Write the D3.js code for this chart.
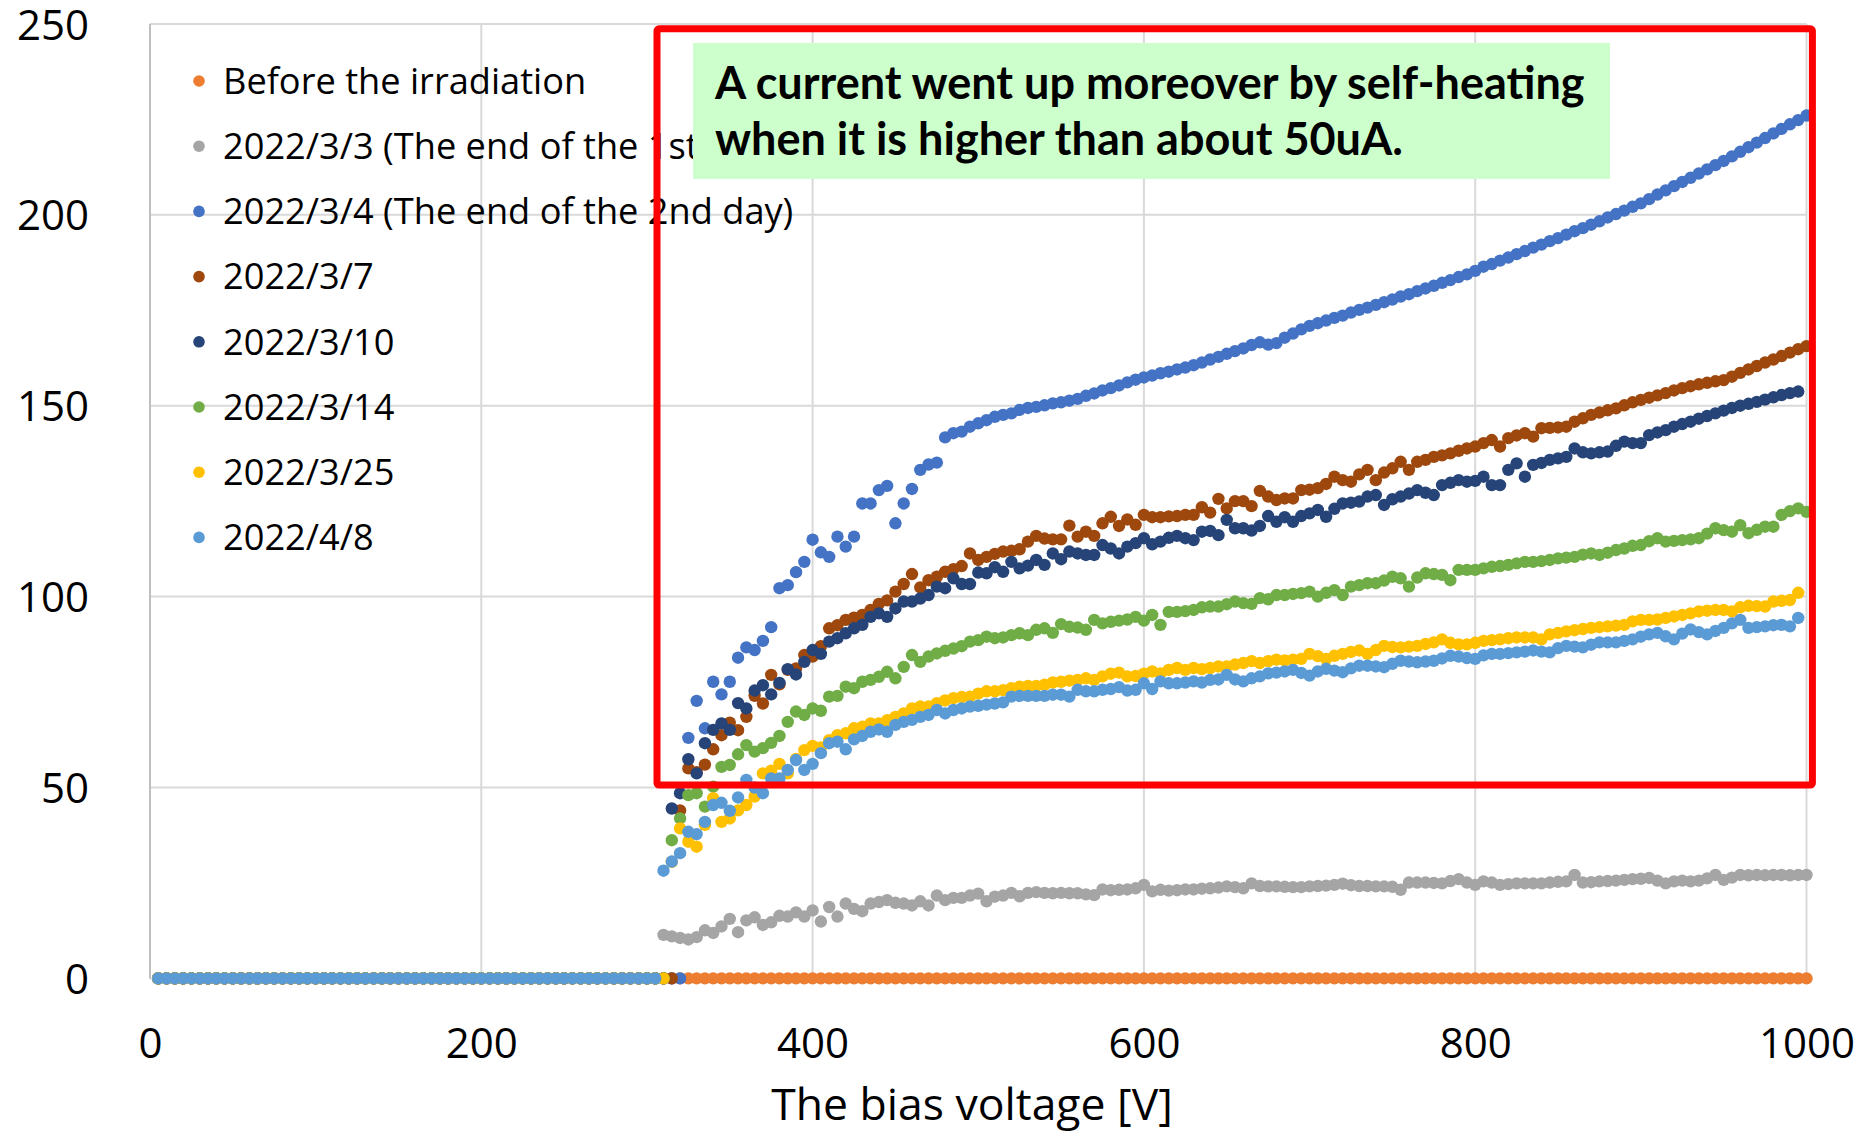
<!DOCTYPE html>
<html>
<head>
<meta charset="utf-8">
<script src="https://cdn.jsdelivr.net/npm/d3@7"></script>
<style>
  html, body { margin: 0; padding: 0; background: #ffffff; }
  svg { display: block; font-family: "Open Sans", sans-serif; }
</style>
</head>
<body>
<svg id="chart" width="1871" height="1132"></svg>
<script>
// Bias voltage sweep [V]
const voltage = [
  5, 10, 15, 20, 25, 30, 35, 40, 45, 50,
  55, 60, 65, 70, 75, 80, 85, 90, 95, 100,
  105, 110, 115, 120, 125, 130, 135, 140, 145, 150,
  155, 160, 165, 170, 175, 180, 185, 190, 195, 200,
  205, 210, 215, 220, 225, 230, 235, 240, 245, 250,
  255, 260, 265, 270, 275, 280, 285, 290, 295, 300,
  305, 310, 315, 320, 325, 330, 335, 340, 345, 350,
  355, 360, 365, 370, 375, 380, 385, 390, 395, 400,
  405, 410, 415, 420, 425, 430, 435, 440, 445, 450,
  455, 460, 465, 470, 475, 480, 485, 490, 495, 500,
  505, 510, 515, 520, 525, 530, 535, 540, 545, 550,
  555, 560, 565, 570, 575, 580, 585, 590, 595, 600,
  605, 610, 615, 620, 625, 630, 635, 640, 645, 650,
  655, 660, 665, 670, 675, 680, 685, 690, 695, 700,
  705, 710, 715, 720, 725, 730, 735, 740, 745, 750,
  755, 760, 765, 770, 775, 780, 785, 790, 795, 800,
  805, 810, 815, 820, 825, 830, 835, 840, 845, 850,
  855, 860, 865, 870, 875, 880, 885, 890, 895, 900,
  905, 910, 915, 920, 925, 930, 935, 940, 945, 950,
  955, 960, 965, 970, 975, 980, 985, 990, 995, 1000
];

// Leakage current [uA] for each measurement day (null = not measured)
const beforeIrradiation = [
  0, 0, 0, 0, 0, 0, 0, 0, 0, 0, 0, 0, 0, 0, 0, 0, 0, 0, 0, 0,
  0, 0, 0, 0, 0, 0, 0, 0, 0, 0, 0, 0, 0, 0, 0, 0, 0, 0, 0, 0,
  0, 0, 0, 0, 0, 0, 0, 0, 0, 0, 0, 0, 0, 0, 0, 0, 0, 0, 0, 0,
  0, 0, 0, 0, 0, 0, 0, 0, 0, 0, 0, 0, 0, 0, 0, 0, 0, 0, 0, 0,
  0, 0, 0, 0, 0, 0, 0, 0, 0, 0, 0, 0, 0, 0, 0, 0, 0, 0, 0, 0,
  0, 0, 0, 0, 0, 0, 0, 0, 0, 0, 0, 0, 0, 0, 0, 0, 0, 0, 0, 0,
  0, 0, 0, 0, 0, 0, 0, 0, 0, 0, 0, 0, 0, 0, 0, 0, 0, 0, 0, 0,
  0, 0, 0, 0, 0, 0, 0, 0, 0, 0, 0, 0, 0, 0, 0, 0, 0, 0, 0, 0,
  0, 0, 0, 0, 0, 0, 0, 0, 0, 0, 0, 0, 0, 0, 0, 0, 0, 0, 0, 0,
  0, 0, 0, 0, 0, 0, 0, 0, 0, 0, 0, 0, 0, 0, 0, 0, 0, 0, 0, 0
];

const mar03 = [
  0, 0, 0, 0, 0, 0, 0, 0, 0, 0, 0, 0, 0, 0, 0, 0, 0, 0, 0, 0,
  0, 0, 0, 0, 0, 0, 0, 0, 0, 0, 0, 0, 0, 0, 0, 0, 0, 0, 0, 0,
  0, 0, 0, 0, 0, 0, 0, 0, 0, 0, 0, 0, 0, 0, 0, 0, 0, 0, 0, 0,
  0, 11.4, 11, 10.6, 10.2, 10.8, 12.6, 11.9, 13.6, 15.6,
  12.1, 15.2, 16, 14, 14.7, 16.4, 16.2, 17.3, 16.2, 17.8,
  14.9, 18.7, 16.2, 19.6, 18.2, 17.6, 19.6, 20, 20.5, 19.8,
  19.6, 19.1, 20.2, 19.1, 21.7, 20.5, 21.1, 21.1, 21.7, 22.2,
  20.2, 21.4, 21.7, 22.4, 21.5, 22.4, 22.6, 22.4, 22.3, 22.4,
  22.3, 22.3, 22, 21.8, 23.3, 23.1, 23.2, 23.3, 23.6, 24.5,
  22.8, 23.2, 23, 23.1, 23.3, 23.3, 23.5, 23.6, 23.8, 24.1,
  23.9, 23.6, 24.9, 24.2, 24.1, 24.1, 24, 23.9, 23.9, 24.1,
  24.2, 24.3, 24.5, 24.8, 24.4, 24.2, 24.2, 24.1, 24.1, 24,
  23.2, 25.1, 25.1, 25.1, 25, 24.9, 25.5, 26, 25.1, 24.5,
  25.4, 25.1, 24.5, 24.7, 24.9, 24.9, 24.9, 24.9, 25.1, 25.3,
  25.4, 27.1, 25.1, 25.2, 25.4, 25.5, 25.6, 25.8, 26, 26.1,
  26.3, 25.6, 24.9, 25.4, 25.6, 25.4, 25.6, 26.2, 27.1, 25.8,
  26.4, 27.1, 27, 27.1, 27, 27.1, 27.1, 27, 27.1, 27.1
];

const mar04 = [
  0, 0, 0, 0, 0, 0, 0, 0, 0, 0, 0, 0, 0, 0, 0, 0, 0, 0, 0, 0,
  0, 0, 0, 0, 0, 0, 0, 0, 0, 0, 0, 0, 0, 0, 0, 0, 0, 0, 0, 0,
  0, 0, 0, 0, 0, 0, 0, 0, 0, 0, 0, 0, 0, 0, 0, 0, 0, 0, 0, 0,
  0, 0, 0, 0, 63, 72.7, 65.5, 77.7, 74.4, 77.7,
  84, 86.7, 86, 88.4, 92, 102.2, 103, 106.4, 109.1, 114.9,
  111.6, 110.4, 115.7, 113.1, 115.7, 124.4, 124.4, 127.9, 129, 119.2,
  124.4, 128.2, 133.2, 134.6, 135.1, 141.7, 142.8, 143.2, 144.5, 145.4,
  146.2, 147.1, 147.6, 148, 148.9, 149.4, 149.7, 150.1, 150.6, 150.9,
  151.3, 151.8, 152.6, 153.2, 154, 154.6, 155.3, 156.1, 156.8, 157.4,
  157.9, 158.5, 158.9, 159.5, 160, 160.6, 161.3, 162.1, 162.8, 163.6,
  164.3, 165, 165.9, 166.6, 166, 166.4, 167.8, 168.9, 170, 170.9,
  171.6, 172.3, 173, 173.6, 174.4, 175.1, 175.7, 176.4, 177.1, 177.8,
  178.6, 179.2, 180, 180.7, 181.4, 182.2, 182.9, 183.7, 184.4, 185.3,
  186.4, 187.1, 188, 188.8, 189.7, 190.5, 191.4, 192.2, 193.1, 193.9,
  194.8, 195.7, 196.5, 197.4, 198.3, 199.3, 200.2, 201.1, 202.1, 203,
  204.1, 205.3, 206.4, 207.5, 208.6, 209.7, 210.8, 211.9, 213, 214.1,
  215.3, 216.5, 217.7, 218.9, 220.1, 221.3, 222.5, 223.7, 224.8, 226
];

const mar07 = [
  0, 0, 0, 0, 0, 0, 0, 0, 0, 0, 0, 0, 0, 0, 0, 0, 0, 0, 0, 0,
  0, 0, 0, 0, 0, 0, 0, 0, 0, 0, 0, 0, 0, 0, 0, 0, 0, 0, 0, 0,
  0, 0, 0, 0, 0, 0, 0, 0, 0, 0, 0, 0, 0, 0, 0, 0, 0, 0, 0, 0,
  0, 0, 0, 44, 55, 54, 56, 60, 63.7, 67,
  65, 68.5, 74, 72, 79.5, 77, 80.8, 81.2, 84.7, 84.3,
  87, 91.7, 92.5, 93.9, 94.5, 95.2, 96.5, 98.1, 99, 101.3,
  103.3, 105.9, 102.4, 104.3, 105.2, 106.5, 107.2, 108, 111.3, 109.6,
  110.4, 111.2, 111.8, 112, 112.4, 114.4, 115.9, 115.2, 115, 115,
  118.6, 115.7, 117, 115.9, 119.2, 120.9, 118.5, 120.2, 118.8, 121.4,
  120.8, 120.8, 121, 121.1, 121.4, 121.4, 123.4, 122, 125.6, 123.1,
  125, 125, 123.7, 127.7, 126.2, 125.3, 125.7, 125.7, 127.9, 128,
  128.4, 129.5, 131.4, 130.5, 130.1, 132, 133.2, 130.5, 132.5, 133.6,
  135.3, 133.2, 135.3, 135.8, 136.6, 137, 137.5, 138.2, 138.8, 139.3,
  140.2, 141, 139.3, 141.5, 142.2, 142.8, 141.9, 144.1, 144.2, 144.3,
  144.5, 145.8, 146.7, 147.6, 148.2, 148.8, 149.3, 150.1, 150.9, 151.5,
  152.1, 152.7, 153.3, 154, 154.6, 155.1, 155.6, 156, 156.4, 156.7,
  157.6, 158.6, 159.5, 160.4, 161.3, 162.1, 163, 163.9, 164.8, 165.6
];

const mar10 = [
  0, 0, 0, 0, 0, 0, 0, 0, 0, 0, 0, 0, 0, 0, 0, 0, 0, 0, 0, 0,
  0, 0, 0, 0, 0, 0, 0, 0, 0, 0, 0, 0, 0, 0, 0, 0, 0, 0, 0, 0,
  0, 0, 0, 0, 0, 0, 0, 0, 0, 0, 0, 0, 0, 0, 0, 0, 0, 0, 0, 0,
  0, 0, 44.5, 48.5, 57.4, 53.7, 61.6, 65.1, 66.8, 65.1,
  72.1, 70.7, 75.4, 76.8, 74.4, 77.4, 81, 79.6, 82.9, 86,
  85, 88.2, 89.1, 90.4, 91.7, 92.6, 94.7, 95.6, 94.7, 96.9,
  98.7, 98.7, 99.5, 100.4, 102.6, 102.2, 104.8, 103.3, 103.3, 106.3,
  106.1, 107.7, 106.5, 109.1, 107.4, 108.1, 109.6, 108.3, 111.3, 109.8,
  111.8, 111.3, 110.9, 110.9, 113.5, 112.6, 111.3, 113.1, 114, 115.3,
  113.7, 114.4, 115.4, 115.9, 115.3, 114.8, 117, 117.2, 116.1, 120.1,
  117.9, 117.9, 117.3, 118.5, 121.1, 119.6, 120.8, 119.6, 121.1, 121.8,
  122.7, 120.9, 123, 124.4, 124.6, 124.9, 126.2, 126.6, 124, 125.5,
  126.2, 127, 127.9, 127.2, 126.6, 129.2, 129.8, 130.5, 130.1, 130.3,
  131.4, 129.2, 129.2, 133.2, 134.9, 131.4, 134.5, 135, 135.8, 136.2,
  136.6, 138.8, 137.8, 137.5, 137.8, 138, 139.5, 140.6, 140.2, 140.2,
  142.3, 143, 143.6, 144.5, 145.2, 145.8, 146.6, 147.3, 148, 148.7,
  149.4, 150, 150.5, 151, 151.6, 152.2, 152.8, 153.3, 153.7, null
];

const mar14 = [
  0, 0, 0, 0, 0, 0, 0, 0, 0, 0, 0, 0, 0, 0, 0, 0, 0, 0, 0, 0,
  0, 0, 0, 0, 0, 0, 0, 0, 0, 0, 0, 0, 0, 0, 0, 0, 0, 0, 0, 0,
  0, 0, 0, 0, 0, 0, 0, 0, 0, 0, 0, 0, 0, 0, 0, 0, 0, 0, 0, 0,
  0, 0, 36.2, 41.9, 48, 48.5, 45, 50.2, 55.4, 55.9,
  58.7, 61.1, 59.4, 60.3, 61.7, 63.5, 67.2, 69.9, 69, 70.7,
  70.1, 73.8, 74, 76.4, 76, 77.7, 78.2, 79, 80.3, 78.6,
  81.6, 84.7, 82.9, 84.3, 85.1, 85.8, 86.4, 87, 88.2, 88.6,
  89.5, 89.1, 89.3, 89.9, 90.4, 89.9, 91.3, 91.7, 90.5, 92.8,
  92.1, 91.9, 91.3, 93.9, 93, 93.4, 93.7, 94, 94.7, 93.7,
  95.2, 92.6, 96, 96, 96.2, 96.5, 97.2, 97.4, 97.4, 98,
  98.7, 98.3, 98.1, 99.6, 99.3, 100.4, 100.4, 100.7, 100.9, 101.3,
  100, 101, 101.7, 100.4, 102.6, 103, 103.5, 103.5, 104.2, 105.2,
  104.8, 102.6, 105, 106.1, 105.9, 105.7, 104.3, 107, 107, 107,
  107.4, 107.8, 108, 108.3, 108.7, 109.1, 109.1, 109.3, 109.6, 110,
  110.2, 110.4, 111, 111.3, 110.9, 111.5, 112.2, 112.6, 113.3, 113.5,
  114.5, 115.3, 114.4, 114.6, 114.8, 115, 115.3, 116.5, 117.9, 117.4,
  117, 118.7, 116.6, 117.5, 118.3, 118.3, 121.4, 122.4, 123.1, 122.2
];

const mar25 = [
  0, 0, 0, 0, 0, 0, 0, 0, 0, 0, 0, 0, 0, 0, 0, 0, 0, 0, 0, 0,
  0, 0, 0, 0, 0, 0, 0, 0, 0, 0, 0, 0, 0, 0, 0, 0, 0, 0, 0, 0,
  0, 0, 0, 0, 0, 0, 0, 0, 0, 0, 0, 0, 0, 0, 0, 0, 0, 0, 0, 0,
  0, 0, 30.5, 39.3, 35.8, 34.5, 40.2, 47.2, 41, 41.9,
  44, 45.4, 47.6, 53.7, 54.4, 56.2, 53.7, 57.5, 59.8, 60.9,
  60.5, 62.4, 63.7, 64.2, 65.5, 65.9, 66.8, 66.8, 67.6, 68.5,
  69.4, 70.7, 71.2, 71.2, 72.1, 72.8, 73.4, 73.7, 73.8, 74.6,
  75.2, 75.2, 75.5, 76, 76.4, 76.6, 76.6, 76.9, 77.5, 77.7,
  78, 78.2, 78.6, 78.2, 79.1, 79.8, 80.1, 79.1, 79.2, 79.8,
  80.4, 79.9, 80.8, 81.3, 80.8, 81.3, 81, 81.3, 81.7, 81.7,
  82.2, 82.6, 83.1, 82.6, 83.1, 83.5, 83.3, 83.5, 83.7, 85,
  84.4, 83.7, 84.5, 85, 85.5, 85.9, 85, 86, 87.1, 86.8,
  86.7, 86.9, 87.1, 87.6, 88, 88.8, 87.9, 87.5, 87.5, 87.9,
  88.4, 88.6, 88.8, 89.1, 89.3, 89.3, 89.3, 88.8, 90.1, 90.5,
  90.9, 91.2, 91.5, 91.8, 92, 92.2, 92.4, 92.6, 93.5, 93.9,
  93.9, 94, 94.4, 94.8, 95.2, 95.6, 96.1, 96.3, 96.5, 96.5,
  96.1, 97.2, 97.6, 97.5, 97.4, 98.7, 98.9, 99.1, 101, null
];

const apr08 = [
  0, 0, 0, 0, 0, 0, 0, 0, 0, 0, 0, 0, 0, 0, 0, 0, 0, 0, 0, 0,
  0, 0, 0, 0, 0, 0, 0, 0, 0, 0, 0, 0, 0, 0, 0, 0, 0, 0, 0, 0,
  0, 0, 0, 0, 0, 0, 0, 0, 0, 0, 0, 0, 0, 0, 0, 0, 0, 0, 0, 0,
  0, 28.2, 30.6, 32.8, 38.4, 37.8, 41, 45.4, 46, 43.9,
  47.4, 52, 50, 48.5, 52.4, 52.4, 54.6, 57.2, 54.6, 56.2,
  59, 61.6, 62, 60, 62.6, 63.5, 64.6, 65.2, 64.6, 66.4,
  67.2, 67.7, 68.5, 69, 70.3, 69.4, 70.3, 70.7, 71.2, 71.4,
  71.7, 72, 72.3, 73.8, 74, 74, 74, 74, 74.3, 74.3,
  73.8, 75.6, 75.2, 75.2, 75.6, 75.8, 76.3, 75.4, 75.6, 77.3,
  75.8, 77.8, 77.3, 77.3, 77.5, 77.8, 77.5, 78.2, 78.3, 79.5,
  78.3, 77.8, 78.6, 79.1, 79.9, 80.1, 80.4, 80.8, 80, 79.3,
  80.4, 81.1, 80.6, 80.2, 81.2, 81.9, 81.9, 81.7, 81.5, 82.4,
  83.2, 83, 82.8, 83, 83.2, 83.8, 84.5, 84.3, 83.9, 83.7,
  84.6, 85, 85, 85.2, 85.4, 85.6, 85.9, 85.6, 85.4, 86.5,
  87.1, 86.9, 86.7, 87.4, 88, 88, 88, 88.4, 88.8, 89.5,
  90.1, 90.5, 89.6, 88.8, 90.3, 91.4, 90.7, 90.1, 91, 91.8,
  93, 93.9, 91.8, 92, 92.2, 92.5, 92.6, 92.2, 94.4, null
];

const seriesNames = [
  'Before the irradiation',
  '2022/3/3 (The end of the 1st day)',
  '2022/3/4 (The end of the 2nd day)',
  '2022/3/7',
  '2022/3/10',
  '2022/3/14',
  '2022/3/25',
  '2022/4/8'
];
const seriesValues = [beforeIrradiation, mar03, mar04, mar07, mar10, mar14, mar25, apr08];
const seriesColors = ['#ED7D31', '#A5A5A5', '#4472C4', '#9E480E', '#264478', '#70AD47', '#FFC000', '#5B9BD5'];

const xTicks = [0, 200, 400, 600, 800, 1000];
const yTicks = [0, 50, 100, 150, 200, 250];
const xTitle = 'The bias voltage [V]';
const noteLines = ['A current went up moreover by self-heating', 'when it is higher than about 50uA.'];

const svg = d3.select('#chart');

// Plot area in page pixels
const plot = { left: 150, right: 1806.5, top: 23.9, bottom: 978.4 };

const x = d3.scaleLinear().domain([0, 1000]).range([plot.left, plot.right]);
const y = d3.scaleLinear().domain([0, 250]).range([plot.bottom, plot.top]);

// Gridlines
svg.append('g')
  .selectAll('line')
  .data(yTicks)
  .join('line')
  .attr('x1', x(0)).attr('x2', x(1000))
  .attr('y1', d => y(d)).attr('y2', d => y(d))
  .attr('stroke', '#d9d9d9')
  .attr('stroke-width', 2);

svg.append('g')
  .selectAll('line')
  .data(xTicks)
  .join('line')
  .attr('x1', d => x(d)).attr('x2', d => x(d))
  .attr('y1', y(0)).attr('y2', y(250))
  .attr('stroke', d => d === 0 ? '#bfbfbf' : '#d9d9d9')
  .attr('stroke-width', 2);

// Axes (labels only, Excel style)
const xAxis = svg.append('g')
  .attr('transform', `translate(0, ${plot.bottom})`)
  .call(d3.axisBottom(x).tickValues(xTicks).tickSize(0).tickPadding(50).tickFormat(d3.format('d')));

const yAxis = svg.append('g')
  .attr('transform', `translate(${plot.left}, 0)`)
  .call(d3.axisLeft(y).tickValues(yTicks).tickSize(0).tickPadding(61).tickFormat(d3.format('d')));

[xAxis, yAxis].forEach(axis => {
  axis.select('.domain').remove();
  axis.selectAll('text')
    .attr('font-family', '"Open Sans", sans-serif')
    .attr('font-size', 42)
    .attr('fill', '#000');
});
yAxis.selectAll('text').attr('dy', '0.36em');

// Axis title
svg.append('text')
  .attr('x', 972)
  .attr('y', 1120)
  .attr('text-anchor', 'middle')
  .attr('font-size', 44.5)
  .attr('fill', '#000')
  .text(xTitle);

// Scatter points, one group per series (later series on top)
seriesValues.forEach((values, i) => {
  const points = voltage
    .map((v, j) => ({ v, c: values[j] }))
    .filter(d => d.c !== null);

  svg.append('g')
    .selectAll('circle')
    .data(points)
    .join('circle')
    .attr('cx', d => x(d.v))
    .attr('cy', d => y(d.c))
    .attr('r', 6.2)
    .attr('fill', seriesColors[i]);
});

// Legend inside the plot
const legend = svg.append('g')
  .attr('transform', 'translate(199, 81)');

const legendRow = legend.selectAll('g')
  .data(seriesNames)
  .join('g')
  .attr('transform', (d, i) => `translate(0, ${i * 65.2})`);

legendRow.append('circle')
  .attr('r', 5.8)
  .attr('fill', (d, i) => seriesColors[i]);

legendRow.append('text')
  .attr('x', 24)
  .attr('y', 12.8)
  .attr('font-size', 36.2)
  .attr('fill', '#000')
  .text(d => d);

// Red highlight box around the high-current region
svg.append('rect')
  .attr('x', 657)
  .attr('y', 28.8)
  .attr('width', 1155.4)
  .attr('height', 756.2)
  .attr('rx', 2)
  .attr('fill', 'none')
  .attr('stroke', '#ff0000')
  .attr('stroke-width', 7)
  .attr('stroke-linejoin', 'round');

// Green note (covers the end of the legend text, as in the original slide)
svg.append('rect')
  .attr('x', 693)
  .attr('y', 43)
  .attr('width', 917)
  .attr('height', 136)
  .attr('fill', '#ccffcc');

svg.append('g')
  .selectAll('text')
  .data(noteLines)
  .join('text')
  .attr('x', 715)
  .attr('y', (d, i) => 99 + i * 56)
  .attr('font-family', 'Lato, sans-serif')
  .attr('font-weight', 700)
  .attr('font-size', 45)
  .attr('fill', '#000')
  .text(d => d);
</script>
</body>
</html>
